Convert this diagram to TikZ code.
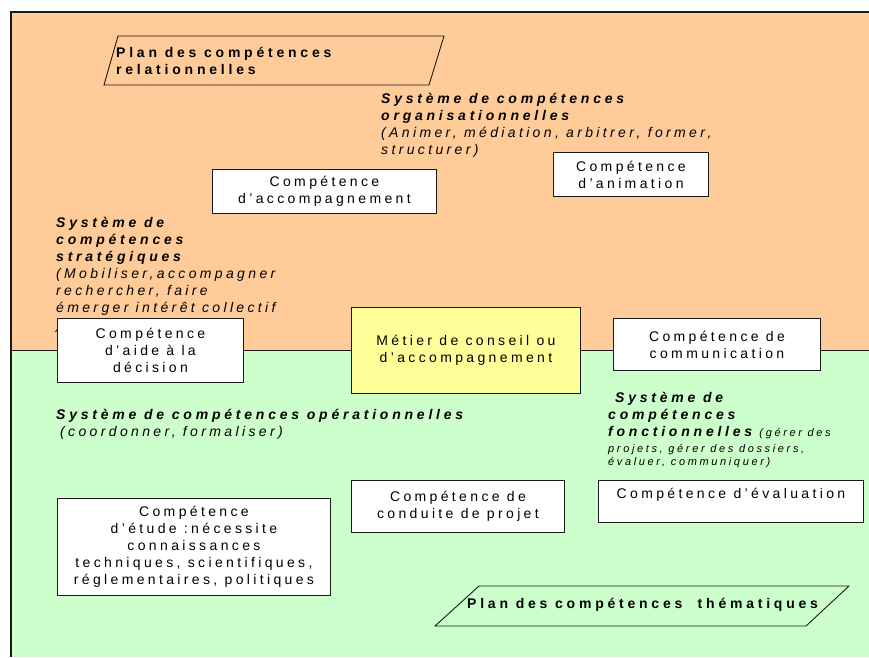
\documentclass[tikz,border=0pt]{standalone}
\usepackage{fontspec}
\setmainfont{Liberation Sans}[LetterSpace=24,
  BoldFeatures={LetterSpace=27}, BoldItalicFeatures={LetterSpace=27}]
\usepackage{tikz}
\newcommand{\bodysize}{\fontsize{14}{17}\selectfont}
\newcommand{\notesize}{\fontsize{11}{13.5}\selectfont}
\definecolor{peachZone}{HTML}{FFCC99}
\definecolor{mintZone}{HTML}{CCFFCC}
\definecolor{paleYellow}{HTML}{FFFF99}
\definecolor{inkBlack}{HTML}{1A1A1A}
\tikzset{
  box/.style      = {draw=inkBlack, fill=white, line width=0.9pt, align=center,
                     font=\bodysize, inner sep=2pt, anchor=north west},
  metierbox/.style= {box, fill=paleYellow},
  plan/.style     = {draw=inkBlack, line width=0.9pt},
  plantext/.style = {font=\bodysize\bfseries, align=left, inner sep=0pt, anchor=north west},
  sysnote/.style  = {font=\bodysize\itshape, align=left, inner sep=0pt, anchor=north west},
  frame/.style    = {draw=inkBlack, line width=1.3pt}
}

\begin{document}
\begin{tikzpicture}[x=1pt, y=-1pt]
  \useasboundingbox (0,0) rectangle (869,657);
  % the two zones
  \fill[peachZone] (11,12) rectangle (869,350);
  \fill[mintZone] (11,350) rectangle (869,657);
  \draw[frame] (11,657) -- (11,12) -- (869,12);
  \draw[draw=inkBlack, line width=0.7pt] (11,350) -- (869,350);

  % plans
  \draw[plan] (104,85) -- (118,36) -- (444,36) -- (429,85) -- cycle;
  \node[plantext] (rel) at (116,47) {Plan des compétences\\relationnelles};
  \draw[plan] (435,626) -- (479,586) -- (849,586) -- (806,626) -- cycle;
  \node[plantext] (them) at (467,598) {Plan des compétences\ \ thématiques};

  % systems of competences
  \node[sysnote] (orga) at (381,93)
    {\textbf{Système de compétences}\\\textbf{organisationnelles}\\(Animer, médiation, arbitrer, former,\\structurer)};
  \node[sysnote] (strat) at (56,217)
    {\textbf{Système de}\\\textbf{compétences}\\\textbf{stratégiques}\\(Mobiliser,accompagner\\rechercher, faire\\émerger intérêt collectif\\)};
  \node[sysnote] (oper) at (56,409)
    {\textbf{Système de compétences opérationnelles}\\\hspace*{4pt}(coordonner, formaliser)};
  \node[sysnote] (fonct) at (608,392)
    {\hspace*{7pt}\textbf{Système de}\\\textbf{compétences}\\\textbf{fonctionnelles} {\notesize (gérer des}\\[-1.3pt]{\notesize projets, gérer des dossiers,}\\[-4pt]{\notesize évaluer, communiquer)}};

  % competences
  \node[box, minimum width=155, minimum height=44] (anim) at (553,152) {Compétence\\d’animation};
  \node[box, minimum width=224, minimum height=44] (accomp) at (212,169) {Compétence\\d’accompagnement};
  \node[box, minimum width=186, minimum height=64] (aide) at (57,318) {Compétence\\d’aide à la\\décision};
  \node[metierbox, minimum width=229, minimum height=86] (metier) at (351,307) {Métier de conseil ou\\d’accompagnement};
  \node[box, minimum width=207, minimum height=52] (comm) at (613,318) {Compétence de\\communication};
  \node[box, minimum width=213, minimum height=52] (projet) at (351,480) {Compétence de\\conduite de projet};
  \node[box, minimum width=265, minimum height=42] (eval) at (598,480) {Compétence d’évaluation\\~};
  \node[box, minimum width=273, minimum height=97] (etude) at (57,498)
    {Compétence\\d’étude :nécessite\\connaissances\\techniques, scientifiques,\\réglementaires, politiques};
\end{tikzpicture}
\end{document}
